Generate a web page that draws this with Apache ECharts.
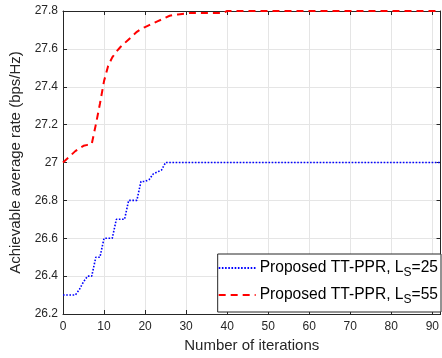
<!DOCTYPE html>
<html>
<head>
<meta charset="utf-8">
<script src="https://cdn.jsdelivr.net/npm/echarts@6/dist/echarts.min.js"></script>
<style>html,body{margin:0;padding:0;background:#fff}#c{width:442px;height:358px}</style>
</head>
<body>
<div id="c"></div>
<script>
var iterations = [];
for (var i = 0; i <= 92; i++) iterations.push(i);

var rateLs25 = [
  26.30, 26.30, 26.30, 26.30, 26.33, 26.37, 26.40, 26.40, 26.50, 26.50,
  26.60, 26.60, 26.60, 26.70, 26.70, 26.70, 26.80, 26.80, 26.80, 26.90,
  26.90, 26.91, 26.94, 26.95, 26.96, 27.00, 27.00, 27.00, 27.00, 27.00,
  27.00, 27.00, 27.00, 27.00, 27.00, 27.00, 27.00, 27.00, 27.00, 27.00,
  27.00, 27.00, 27.00, 27.00, 27.00, 27.00, 27.00, 27.00, 27.00, 27.00,
  27.00, 27.00, 27.00, 27.00, 27.00, 27.00, 27.00, 27.00, 27.00, 27.00,
  27.00, 27.00, 27.00, 27.00, 27.00, 27.00, 27.00, 27.00, 27.00, 27.00,
  27.00, 27.00, 27.00, 27.00, 27.00, 27.00, 27.00, 27.00, 27.00, 27.00,
  27.00, 27.00, 27.00, 27.00, 27.00, 27.00, 27.00, 27.00, 27.00, 27.00,
  27.00, 27.00, 27.00
];

var rateLs55 = [
  27.000, 27.020, 27.040, 27.060, 27.075, 27.088, 27.093, 27.097, 27.200, 27.310,
  27.430, 27.510, 27.555, 27.585, 27.610, 27.630, 27.650, 27.670, 27.690, 27.705,
  27.715, 27.725, 27.735, 27.745, 27.755, 27.765, 27.775, 27.780, 27.782, 27.784,
  27.786, 27.790, 27.790, 27.790, 27.790, 27.790, 27.790, 27.790, 27.790, 27.790,
  27.800, 27.800, 27.800, 27.800, 27.800, 27.800, 27.800, 27.800, 27.800, 27.800,
  27.800, 27.800, 27.800, 27.800, 27.800, 27.800, 27.800, 27.800, 27.800, 27.800,
  27.800, 27.800, 27.800, 27.800, 27.800, 27.800, 27.800, 27.800, 27.800, 27.800,
  27.800, 27.800, 27.800, 27.800, 27.800, 27.800, 27.800, 27.800, 27.800, 27.800,
  27.800, 27.800, 27.800, 27.800, 27.800, 27.800, 27.800, 27.800, 27.800, 27.800,
  27.800, 27.800, 27.800
];

var seriesNames = ['Proposed TT-PPR, L_S=25', 'Proposed TT-PPR, L_S=55'];
var legendLabels = ['Proposed TT-PPR, L{sub|S}=25', 'Proposed TT-PPR, L{sub|S}=55'];
var xTitle = 'Number of iterations';
var yTitle = 'Achievable average rate (bps/Hz)';

function pairs(xs, ys) { return xs.map(function (x, k) { return [x, ys[k]]; }); }

var FONT = '"Liberation Sans", Arial, Helvetica, sans-serif';
var AX = '#262626';
var GRID = '#e5e5e5';

var chart = echarts.init(document.getElementById('c'), null, {renderer: 'canvas'});
chart.setOption({
  animation: false,
  backgroundColor: '#fff',
  textStyle: {fontFamily: FONT},
  grid: {left: 63, right: 1, top: 11, bottom: 42, containLabel: false},
  legend: {
    show: true,
    orient: 'vertical',
    right: 1,
    top: 254,
    backgroundColor: '#fff',
    borderColor: AX, borderWidth: 1, borderRadius: 0,
    padding: [6, 3, 6, 0],
    itemGap: 8,
    itemWidth: 37, itemHeight: 14,
    itemStyle: {opacity: 0},
    formatter: function (name) { return legendLabels[seriesNames.indexOf(name)]; },
    textStyle: {
      fontFamily: FONT, fontSize: 15.6, color: '#000', padding: [0, 0, 0, -1],
      rich: {sub: {fontSize: 12, fontFamily: FONT, color: '#000', padding: [10, 0, 0, 0]}}
    },
    data: seriesNames
  },
  xAxis: [{
    type: 'value', min: 0, max: 92, interval: 10,
    name: xTitle, nameLocation: 'middle', nameGap: 24,
    nameTextStyle: {fontSize: 15, color: AX, fontFamily: FONT},
    axisLine: {show: true, onZero: false, lineStyle: {color: AX, width: 1}},
    axisTick: {show: true, inside: true, length: 4, lineStyle: {color: AX}},
    axisLabel: {fontSize: 12, color: AX, margin: 7, fontFamily: FONT, showMaxLabel: false},
    splitLine: {show: true, lineStyle: {color: GRID, width: 1}}
  }, {
    type: 'value', min: 0, max: 92, interval: 10, position: 'top',
    axisLine: {show: true, onZero: false, lineStyle: {color: AX, width: 1}},
    axisTick: {show: true, inside: true, length: 4, lineStyle: {color: AX}},
    axisLabel: {show: false}, splitLine: {show: false}
  }],
  yAxis: [{
    type: 'value', min: 26.2, max: 27.8, interval: 0.2,
    name: yTitle, nameLocation: 'middle', nameGap: 33,
    nameTextStyle: {fontSize: 15, color: AX, fontFamily: FONT},
    axisLine: {show: true, onZero: false, lineStyle: {color: AX, width: 1}},
    axisTick: {show: true, inside: true, length: 4, lineStyle: {color: AX}},
    axisLabel: {fontSize: 12, color: AX, margin: 5, fontFamily: FONT},
    splitLine: {show: true, lineStyle: {color: GRID, width: 1}}
  }, {
    type: 'value', min: 26.2, max: 27.8, interval: 0.2, position: 'right',
    axisLine: {show: true, onZero: false, lineStyle: {color: AX, width: 1}},
    axisTick: {show: true, inside: true, length: 4, lineStyle: {color: AX}},
    axisLabel: {show: false}, splitLine: {show: false}
  }],
  series: [{
    name: seriesNames[0], type: 'line', xAxisIndex: 0, yAxisIndex: 0,
    data: pairs(iterations, rateLs25),
    showSymbol: false, symbol: 'none',
    lineStyle: {color: '#0000ff', width: 1.6, type: [1.6, 1.6]},
    itemStyle: {color: '#0000ff'}, z: 3
  }, {
    name: seriesNames[1], type: 'line', xAxisIndex: 0, yAxisIndex: 0,
    data: pairs(iterations, rateLs55),
    showSymbol: false, symbol: 'none',
    lineStyle: {color: '#ff0000', width: 2, type: [7, 5]},
    itemStyle: {color: '#ff0000'}, z: 4
  }]
});
</script>
</body>
</html>
